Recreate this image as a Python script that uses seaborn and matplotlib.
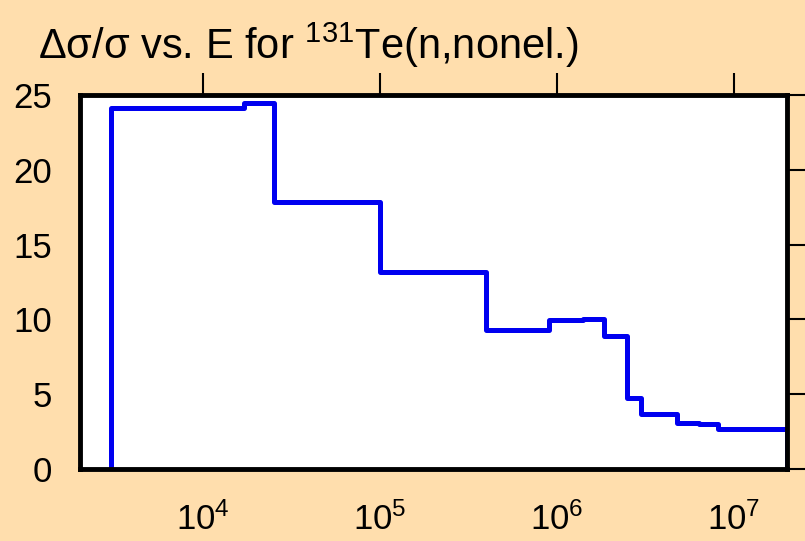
import matplotlib
matplotlib.use('Agg')
from matplotlib import pyplot as plt
from matplotlib.ticker import NullLocator, LogFormatterSciNotation
import pandas as pd
import numpy as np
import seaborn as sns

# energy bin edges (eV) and relative uncertainty (%) per bin
edges = [3e3, 1.7e4, 2.5e4, 1e5, 4e5, 9e5, 1.4e6, 1.85e6, 2.5e6, 3e6, 4.8e6, 6.4e6, 8.2e6, 2e7]
rel_unc = [24.1, 24.45, 17.87, 13.14, 9.27, 9.94, 10.03, 8.91, 4.77, 3.65, 3.1, 3.0, 2.69]
yticks = [0, 5, 10, 15, 20, 25]
xticks = [1e4, 1e5, 1e6, 1e7]

bg = '#FFDEAD'
sns.set_style('white')
plt.rcParams['font.family'] = ['Liberation Sans', 'DejaVu Sans']
plt.rcParams['mathtext.fontset'] = 'custom'
plt.rcParams['mathtext.rm'] = 'Liberation Sans'
plt.rcParams['mathtext.it'] = 'Liberation Sans:italic'
plt.rcParams['mathtext.bf'] = 'Liberation Sans:bold'
plt.rcParams['text.color'] = 'black'
plt.rcParams['xtick.color'] = 'black'
plt.rcParams['ytick.color'] = 'black'

# outline of the histogram: up from 0 at the first edge, down to 0 at the last
df = pd.DataFrame({'E': [edges[0]] + edges, 'v': [0] + rel_unc + [0]})

fig = plt.figure(figsize=(8.05, 5.41), dpi=100, facecolor=bg)
ax = fig.add_axes([0.0988, 0.1331, 0.8788, 0.6913])
sns.lineplot(data=df, x='E', y='v', ax=ax, sort=False, estimator=None,
             drawstyle='steps-post', color='#0000F0', lw=3.6)
ax.set_xscale('log')
ax.set_xlim(2e3, 2e7)
ax.set_ylim(0, 25)
ax.set_xticks(xticks)
ax.set_yticks(yticks)
ax.xaxis.set_minor_locator(NullLocator())
ax.xaxis.set_major_formatter(LogFormatterSciNotation())
ax.set_xlabel('')
ax.set_ylabel('')
for s in ax.spines.values():
    s.set_linewidth(3.5)
    s.set_color('black')
ax.tick_params(axis='both', which='major', direction='out', length=13, width=1.5,
               labelsize=25, labelcolor='black', top=True, right=True)
ax.tick_params(axis='y', pad=7)
ax.tick_params(axis='x', length=16, pad=8)

fig.text(38 / 805, 1 - 59 / 541, 'Δσ/σ vs. E for $\\mathregular{^{131}}$Te(n,nonel.)',
         fontsize=30, ha='left', va='baseline')

fig.savefig('out.png', dpi=100, facecolor=bg)
